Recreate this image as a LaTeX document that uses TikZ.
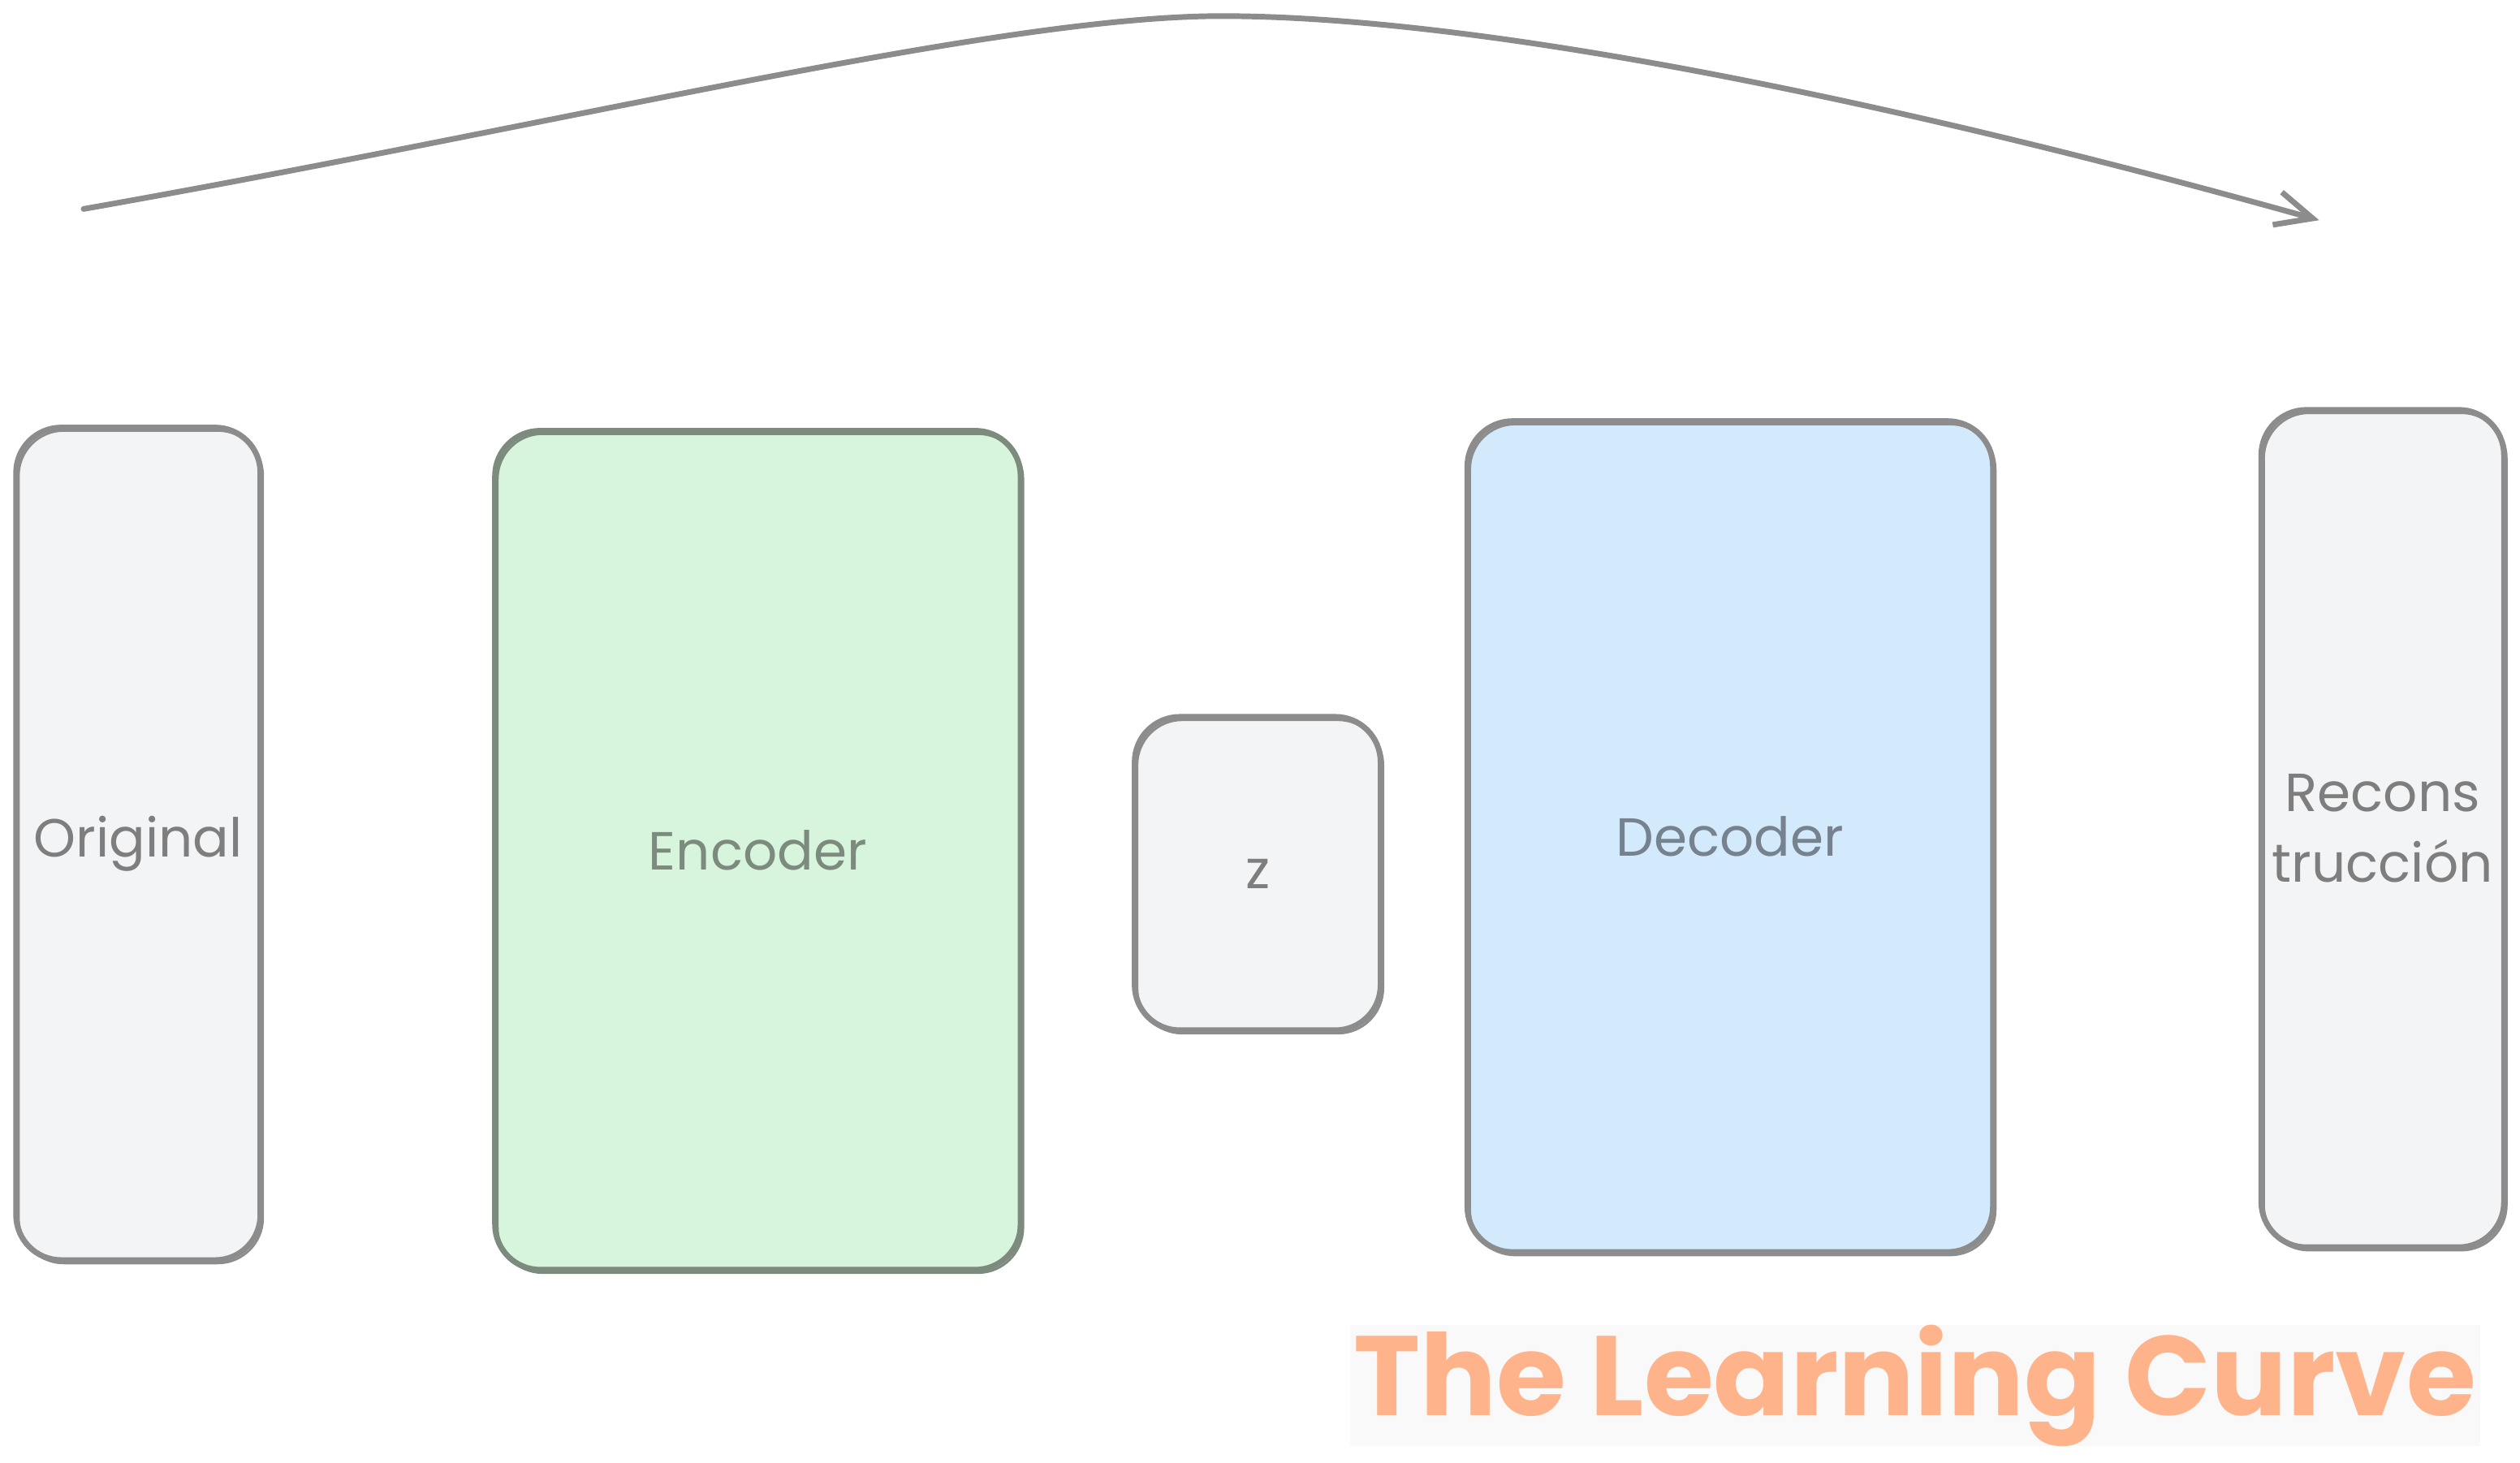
\documentclass[tikz,border=0pt]{standalone}
\usepackage{fontspec}
\setmainfont{Poppins}
\usepackage{xcolor}
\usepackage{tikz}
\usetikzlibrary{arrows.meta,positioning}
\definecolor{strokegray}{HTML}{8C8C8C}
\definecolor{boxgrey}{HTML}{F3F4F6}
\definecolor{labelgrey}{HTML}{7E7E7E}
\definecolor{encgreen}{HTML}{D7F5DD}
\definecolor{encline}{HTML}{7C8B7E}
\definecolor{decblue}{HTML}{D3E9FC}
\definecolor{declabel}{HTML}{76838F}
\definecolor{markorange}{HTML}{FFB38A}
\definecolor{markback}{HTML}{F9F9F9}
\tikzset{
  blockbox/.style={draw=strokegray, line width=2pt, rounded corners=16pt,
    inner sep=0pt, outer sep=0pt, align=center,
    font=\fontsize{19}{25}\selectfont,
    postaction={draw, line width=0.8pt,
      transform canvas={shift={(0.9pt,-1.1pt)}}}},
  greybox/.style={blockbox, fill=boxgrey, text=labelgrey},
  encbox/.style={blockbox, fill=encgreen, draw=encline, text=encline},
  decbox/.style={blockbox, fill=decblue, text=declabel},
  flowarrow/.style={-{Straight Barb[length=13pt, width=12pt]}, line width=2pt,
    draw=strokegray, line cap=round},
  markbox/.style={fill=markback, text=markorange, inner sep=0pt,
    font=\fontsize{40}{44}\selectfont\bfseries},
}

\begin{document}
\begin{tikzpicture}
  \useasboundingbox (0,0) rectangle (31.36,-18.2);

  \node[greybox, minimum width=3.04cm, minimum height=10.36cm] (orig)
    at (1.72,-10.5) {Original};

  \node[encbox, right=2.92cm of orig, yshift=-0.08cm,
    minimum width=6.54cm, minimum height=10.44cm] (enc) {Encoder};

  \node[greybox, right=1.42cm of enc, yshift=-0.29cm,
    minimum width=3.06cm, minimum height=3.9cm] (latent) {z};

  \node[decbox, right=1.08cm of latent, yshift=0.46cm,
    minimum width=6.54cm, minimum height=10.34cm] (dec) {Decoder};

  \node[greybox, right=3.34cm of dec, yshift=0.1cm,
    minimum width=3.02cm, minimum height=10.42cm] (recon) {Recons\\trucción};

  % skip connection over the whole network
  \coordinate (start) at (1.04,-2.6);
  \coordinate (finish) at (28.86,-2.74);
  \coordinate (peak) at (15.2,-0.2);
  \draw[flowarrow] (start) .. controls (6.94,-1.56) and (12.4,-0.2) .. (peak)
    .. controls (18.2,-0.2) and (23.08,-1.12) .. (finish);

  \node[markbox, minimum width=14.06cm, minimum height=1.44cm] (mark)
    at (23.83,-17.24) {The Learning Curve};
\end{tikzpicture}
\end{document}
